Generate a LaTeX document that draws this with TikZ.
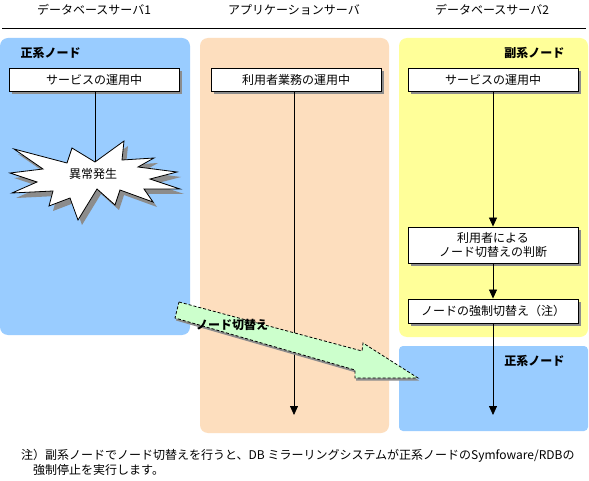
\documentclass[tikz,border=0pt]{standalone}
\usepackage{fontspec}
\setmainfont{Noto Sans CJK JP}
\usetikzlibrary{arrows.meta,shadows}
\definecolor{pblue}{HTML}{99CCFF}
\definecolor{pyellow}{HTML}{FFFF99}
\definecolor{ppeach}{RGB}{253,222,190}
\definecolor{pgreen}{HTML}{CCFFCC}
\definecolor{shgray}{RGB}{140,140,140}
\begin{document}
\begin{tikzpicture}[x=1pt,y=-1pt,
  font=\fontsize{12}{14}\selectfont,
  panel/.style={rounded corners=8pt},
  stepbox/.style={draw, fill=white, line width=0.9pt, minimum width=170pt, inner sep=0pt, align=center,
     drop shadow={shadow xshift=3pt, shadow yshift=-3pt, fill=shgray, opacity=1}},
  flow/.style={line width=0.8pt, -{Triangle[length=9pt,width=8pt]}},
  plain/.style={line width=0.8pt},
  boldlbl/.style={font=\fontsize{12}{14}\selectfont\bfseries},
  hdr/.style={anchor=center}]
\useasboundingbox (0,0) rectangle (589,481);
\fill[white] (0,0) rectangle (589,481);
% panels
\fill[pblue, panel] (0,38) rectangle (190,335);
\fill[ppeach, panel] (200,38) rectangle (389,433);
\fill[pyellow, panel] (399,38) rectangle (588,337);
\fill[pblue, rounded corners=4pt] (399,346) rectangle (588,431);
% headers
\node[hdr] (h1) at (94,10) {データベースサーバ1};
\node[hdr] (h2) at (294,10) {アプリケーションサーバ};
\node[hdr] (h3) at (492,10) {データベースサーバ2};
\coordinate (hl) at (2,28); \coordinate (hr) at (586,28);
\draw[line width=0.8pt] (hl) -- (hr);
% panel labels
\node[boldlbl, anchor=west] (l1) at (17,53) {正系ノード};
\node[boldlbl, anchor=east] (l2) at (568,53) {副系ノード};
\node[boldlbl, anchor=east] (l3) at (568,361) {正系ノード};
% boxes
\node[stepbox, minimum height=23pt] (b1) at (94,79.5) {サービスの運用中};
\node[stepbox, minimum height=23pt] (b2) at (296,79.5) {利用者業務の運用中};
\node[stepbox, minimum height=23pt] (b3) at (493,79.5) {サービスの運用中};
\node[stepbox, minimum height=36pt] (b4) at (493,245) {利用者による\\ノード切替えの判断};
\node[stepbox, minimum height=24pt] (b5) at (493,311) {ノードの強制切替え（注）};
% star
\fill[shgray] ([shift={(4,5)}]14,149) -- ++(53,14) -- ++(5,-15) -- ++(23,14) -- ++(29,-21) -- ++(-2,19) -- ++(32,-2) -- ++(-16,9) -- ++(39,5) -- ++(-27,7) -- ++(30,10) -- ++(-36,0) -- ++(9,13) -- ++(-33,-12) -- ++(-5,15) -- ++(-18,-16) -- ++(-19,31) -- ++(-8,-22) -- ++(-21,8) -- ++(4,-15) -- ++(-41,2) -- ++(25,-11) -- ++(-27,-9) -- ++(33,-4) -- cycle;
\draw[fill=white, line width=0.8pt, line join=miter] (14,149) -- ++(53,14) -- ++(5,-15) -- ++(23,14) -- ++(29,-21) -- ++(-2,19) -- ++(32,-2) -- ++(-16,9) -- ++(39,5) -- ++(-27,7) -- ++(30,10) -- ++(-36,0) -- ++(9,13) -- ++(-33,-12) -- ++(-5,15) -- ++(-18,-16) -- ++(-19,31) -- ++(-8,-22) -- ++(-21,8) -- ++(4,-15) -- ++(-41,2) -- ++(25,-11) -- ++(-27,-9) -- ++(33,-4) -- cycle;
\node (err) at (93,174) {異常発生};
\coordinate (startop) at (95,162);
\draw[plain] (b1.south -| startop) -- (startop);
% connectors
\coordinate (mend) at (294,415);
\draw[flow] (b2.south -| mend) -- (mend);
\draw[flow] (b3) ++(0,11.5) -- (b4.north);
\draw[flow] (b4) -- (b5.north);
\coordinate (rend) at (493,415);
\draw[flow] (b5.south) -- (rend);
% big green arrow
\fill[shgray] ([shift={(1,2.5)}]179,302) -- ++(183,49) -- ++(1,-8) -- ++(55,35) -- ++(-63,0) -- ++(0,-8) -- ++(-180,-52) -- cycle;
\draw[fill=pgreen, dashed, dash pattern=on 3pt off 2pt, line width=0.8pt] (179,302) -- (362,351) -- (363,343) -- (418,378) -- (355,378) -- (355,370) -- (175,318) -- cycle;
\node[boldlbl] (sw) at (232,325) {ノード切替え};
% footnote
\node[anchor=west, inner sep=0pt] (fn1) at (21,456) {注）副系ノードでノード切替えを行うと、DB ミラーリングシステムが正系ノードのSymfoware/RDBの};
\node[anchor=west, inner sep=0pt] (fn2) at (33,470) {強制停止を実行します。};
\end{tikzpicture}
\end{document}
